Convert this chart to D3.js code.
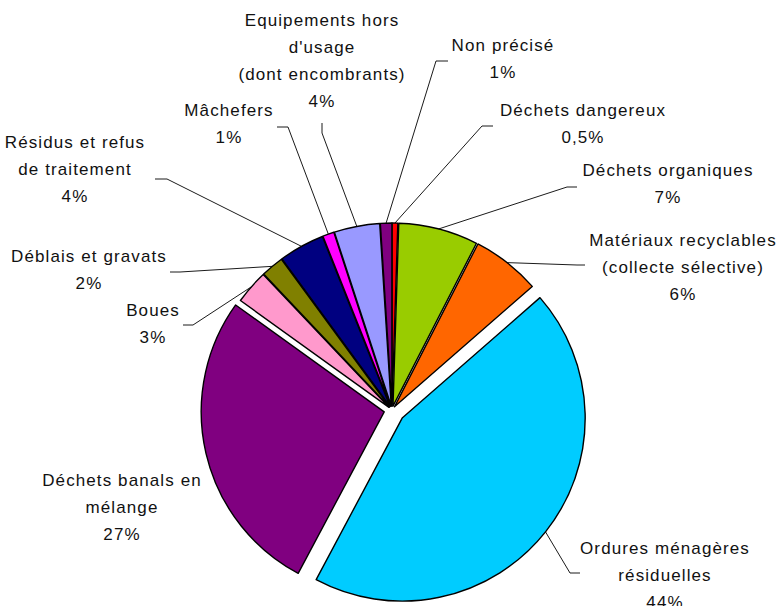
<!DOCTYPE html>
<html>
<head>
<meta charset="utf-8">
<script src="https://cdn.jsdelivr.net/npm/d3@7"></script>
<style>
  html, body { margin: 0; padding: 0; background: #fff; }
  svg text { font-family: "Liberation Sans", Arial, sans-serif; font-size: 17px; letter-spacing: 1.1px; fill: #111; }
</style>
</head>
<body>
<div id="chart"></div>
<script>
// categories, clockwise from 12 o'clock
const categories = [
    "Déchets dangereux",
    "Déchets organiques",
    "Matériaux recyclables\n(collecte sélective)",
    "Ordures ménagères\nrésiduelles",
    "Déchets banals en\nmélange",
    "Boues",
    "Déblais et gravats",
    "Résidus et refus\nde traitement",
    "Mâchefers",
    "Equipements hors\nd'usage\n(dont encombrants)",
    "Non précisé"
];
const values = [0.5, 7, 6, 44, 27, 3, 2, 4, 1, 4, 1];
const pctLabels = ["0,5%", "7%", "6%", "44%", "27%", "3%", "2%", "4%", "1%", "4%", "1%"];

const colors = ["#ff0000", "#99cc00", "#ff6600", "#00ccff", "#800080", "#ff99cc",
                "#808000", "#000080", "#ff00ff", "#9999ff", "#800080"];
const explode = [4, 4, 4, 13, 8, 4, 4, 4, 4, 4, 4];

// label layout: text centre x, first line centre y, leader elbow and end (null = no leader)
const labelLayout = [
    { x: 583, y: 110, elbow: [482, 126], end: [493, 126] },
    { x: 668, y: 170, elbow: [567, 187], end: [577, 187] },
    { x: 683, y: 240, elbow: [577, 265], end: [585, 265] },
    { x: 665, y: 548, elbow: [570, 573], end: [580, 573] },
    { x: 122, y: 480, elbow: null, end: null },
    { x: 153, y: 310, elbow: [193, 325], end: [183, 325] },
    { x: 89,  y: 256, elbow: [180, 272], end: [170, 272] },
    { x: 75,  y: 142, elbow: [167, 179], end: [155, 179] },
    { x: 229, y: 110, elbow: [288, 127], end: [277, 127] },
    { x: 322, y: 20,  elbow: [322, 133], end: [322, 123] },
    { x: 503, y: 45,  elbow: [436, 61],  end: [448, 61] }
];

const width = 780, height = 606;
const cx = 392, cy = 410, radius = 183, lineH = 26.8;

const svg = d3.select("#chart").append("svg")
    .attr("width", width)
    .attr("height", height);

const rows = categories.map((c, i) => ({ name: c, value: values[i], pct: pctLabels[i], i: i }));

const pie = d3.pie().sort(null).value(d => d.value);
const arcs = pie(rows);
const arc = d3.arc().innerRadius(0).outerRadius(radius);

function offset(a, r) {
    const mid = (a.startAngle + a.endAngle) / 2;
    return [Math.sin(mid) * r, -Math.cos(mid) * r];
}

const zone = svg.append("g").attr("transform", `translate(${cx}, ${cy})`);

zone.selectAll("path.slice").data(arcs).enter()
    .append("path")
    .attr("class", "slice")
    .attr("transform", d => {
        const o = offset(d, explode[d.index]);
        return `translate(${o[0]}, ${o[1]})`;
    })
    .attr("d", arc)
    .attr("fill", d => colors[d.index])
    .attr("stroke", "#000")
    .attr("stroke-width", 1.4)
    .attr("stroke-linejoin", "round");

// leader lines
const leaders = svg.append("g").attr("fill", "none").attr("stroke", "#000").attr("stroke-width", 0.9);
arcs.forEach(d => {
    const lay = labelLayout[d.index];
    if (!lay.elbow) return;
    const o = offset(d, radius + explode[d.index]);
    const pts = [[cx + o[0], cy + o[1]], lay.elbow, lay.end];
    leaders.append("path").attr("d", d3.line()(pts));
});

// labels
const labels = svg.append("g");
arcs.forEach(d => {
    const lay = labelLayout[d.index];
    const lines = d.data.name.split("\n").concat([d.data.pct]);
    const t = labels.append("text")
        .attr("text-anchor", "middle")
        .attr("x", lay.x)
        .attr("y", lay.y);
    lines.forEach((ln, k) => {
        t.append("tspan")
            .attr("x", lay.x)
            .attr("y", lay.y + k * lineH)
            .attr("dy", "0.36em")
            .text(ln);
    });
});
</script>
</body>
</html>
